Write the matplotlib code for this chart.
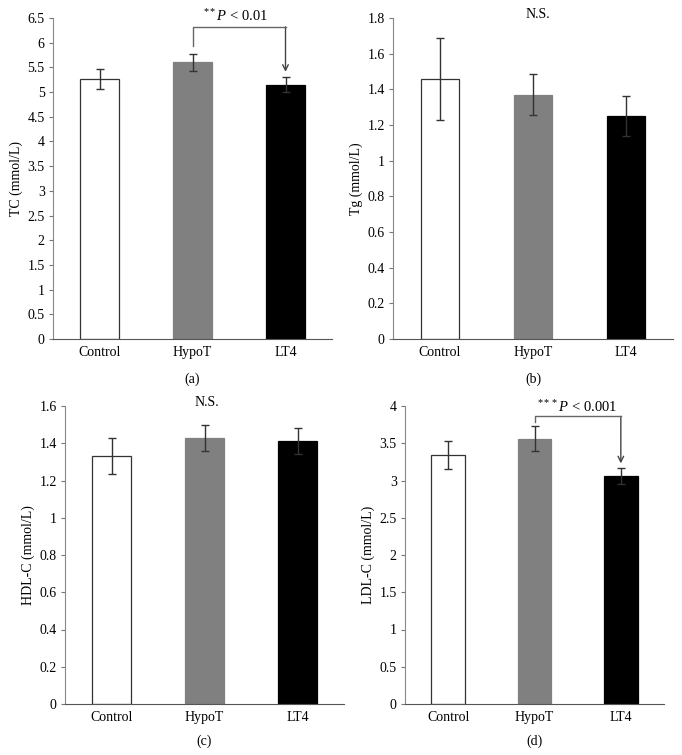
import matplotlib.pyplot as plt
import numpy as np

plt.rcParams['font.family'] = ['Liberation Serif', 'DejaVu Serif']
plt.rcParams['mathtext.fontset'] = 'custom'
plt.rcParams['mathtext.rm'] = 'Liberation Serif'
plt.rcParams['mathtext.it'] = 'Liberation Serif:italic'

groups = ['Control', 'HypoT', 'LT4']
colors = ['white', '#808080', 'black']

tc_mean = [5.26, 5.60, 5.15]
tc_err = [0.20, 0.18, 0.15]
tg_mean = [1.46, 1.37, 1.25]
tg_err = [0.23, 0.115, 0.11]
hdl_mean = [1.33, 1.43, 1.41]
hdl_err = [0.097, 0.07, 0.07]
ldl_mean = [3.34, 3.56, 3.06]
ldl_err = [0.19, 0.165, 0.11]

W, H = 682, 755
fig = plt.figure(figsize=(W / 100, H / 100), dpi=100)
fs = 10


def box(l, r, t, b):
    return [l / W, (H - b) / H, (r - l) / W, (b - t) / H]


def panel(rect, mean, err, ylim, step, ylabel, tag, width=0.41):
    ax = fig.add_axes(rect)
    i = np.arange(len(groups))
    ax.bar(i, mean, width, color=colors, edgecolor=['#333333', '#808080', 'black'],
           linewidth=0.9, zorder=2)
    ax.errorbar(i, mean, yerr=err, fmt='none', ecolor='#333333', elinewidth=1,
                capsize=3, capthick=1, zorder=3)
    ax.set_xlim(-0.5, 2.5)
    ax.set_ylim(0, ylim)
    ticks = np.arange(0, ylim + step / 2, step)
    ax.set_yticks(ticks, [f'{t:g}' for t in np.round(ticks, 2)])
    ax.set_xticks(i, groups)
    ax.tick_params(axis='x', length=0, pad=5, labelsize=fs)
    ax.tick_params(axis='y', length=3, direction='out', color='#777777', labelsize=fs, pad=3)
    for s in ['top', 'right']:
        ax.spines[s].set_visible(False)
    ax.spines['left'].set_color('#888888')
    ax.spines['bottom'].set_color('#555555')
    ax.set_ylabel(ylabel, fontsize=fs, labelpad=3)
    ax.text(0.5, -0.125, tag, transform=ax.transAxes, ha='center', va='center', fontsize=fs)
    return ax


def bracket(ax, y, yl, yr, label, tx, ty):
    ax.plot([1, 1, 2], [yl, y, y], color='#666666', lw=1, clip_on=False, zorder=4)
    ax.annotate('', xy=(2, yr), xytext=(2, y),
                arrowprops=dict(arrowstyle='->', color='#444444', lw=1,
                                shrinkA=0, shrinkB=0), annotation_clip=False)
    ax.text(tx, ty, label, ha='center', va='center', fontsize=10.5, clip_on=False)


ax_a = panel(box(53, 332, 18, 339), tc_mean, tc_err, 6.5, 0.5, 'TC (mmol/L)', '(a)')
bracket(ax_a, 6.32, 5.94, 5.41, r'$^{**}\mathit{P}$ < 0.01', 1.46, 6.53)

ax_b = panel(box(393, 673, 18, 339), tg_mean, tg_err, 1.8, 0.2, 'Tg (mmol/L)', '(b)')
ax_b.text(1.05, 1.82, 'N.S.', ha='center', va='center', fontsize=fs, clip_on=False)

ax_c = panel(box(65, 344, 406, 704), hdl_mean, hdl_err, 1.6, 0.2, 'HDL-C (mmol/L)', '(c)')
ax_c.text(1.02, 1.62, 'N.S.', ha='center', va='center', fontsize=fs, clip_on=False)

ax_d = panel(box(405, 664, 406, 704), ldl_mean, ldl_err, 4, 0.5, 'LDL-C (mmol/L)', '(d)', width=0.39)
bracket(ax_d, 3.86, 3.78, 3.23, r'$^{***}\mathit{P}$ < 0.001', 1.49, 3.985)

plt.savefig('out.png', dpi=100)
